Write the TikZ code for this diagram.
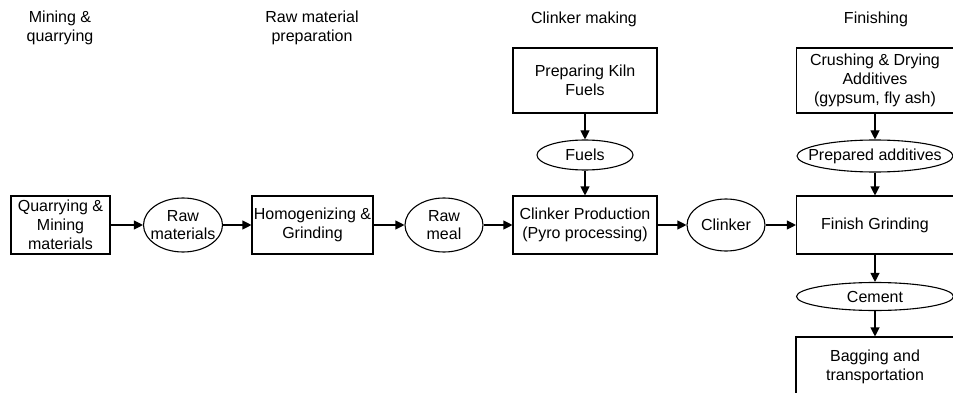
\documentclass[tikz,border=0pt]{standalone}
\usepackage{fontspec}
\setmainfont{Liberation Sans}
\usetikzlibrary{shapes.geometric,arrows.meta}
\begin{document}
\begin{tikzpicture}[x=1pt,y=-1pt,
  every node/.style={font=\fontsize{16}{18.8}\selectfont, align=center, inner sep=0pt},
  procbox/.style={draw, line width=1.1pt, rectangle, minimum width=#1},
  flowoval/.style={draw, line width=1.1pt, ellipse},
  stagelabel/.style={},
  flow/.style={line width=1.1pt, -{Triangle[length=9pt,width=9pt]}}
]
\useasboundingbox (0,0) rectangle (953,393);
\clip (0,0) rectangle (953,393);

% stage headings
\node[stagelabel] (h1) at (60,28) {Mining \&\\quarrying};
\node[stagelabel] (h2) at (312,28) {Raw material\\preparation};
\node[stagelabel] (h3) at (584,19) {Clinker making};
\node[stagelabel] (h4) at (876,19) {Finishing};

% main production line
\node[procbox=99pt, minimum height=58pt] (quarry) at (60.5,225) {Quarrying \&\\Mining\\materials};
\node[flowoval, minimum width=79pt, minimum height=54pt,
      label={[align=center]center:Raw\\materials}] (rawmat) at (183,225) {};
\node[procbox=121pt, minimum height=58pt] (homog) at (312.5,225) {Homogenizing \&\\Grinding};
\node[flowoval, minimum width=78pt, minimum height=54pt,
      label={[align=center]center:Raw\\meal}] (rawmeal) at (444,225) {};
\node[procbox=144pt, minimum height=58pt] (kiln) at (585,225) {Clinker Production\\(Pyro processing)};
\node[flowoval, minimum width=78pt, minimum height=52pt,
      label={[align=center]center:Clinker}] (clinker) at (726,225) {};
\node[procbox=157pt, minimum height=58pt] (finish) at (875,225) {Finish Grinding};

% fuel branch
\node[procbox=144pt, minimum height=65pt] (fuelprep) at (585,80.5) {Preparing Kiln\\Fuels};
\node[flowoval, minimum width=96pt, minimum height=30pt,
      label={[align=center]center:Fuels}] (fuels) at (585,155) {};

% additives branch
\node[procbox=157pt, minimum height=65pt] (crush) at (875,80.5) {Crushing \& Drying\\Additives\\(gypsum, fly ash)};
\node[flowoval, minimum width=156pt, minimum height=32pt,
      label={[align=center]center:Prepared additives}] (additives) at (875,156) {};

% output branch
\node[flowoval, minimum width=157pt, minimum height=28pt,
      label={[align=center]center:Cement}] (cement) at (875,296.5) {};
\node[procbox=166pt, minimum height=63pt] (bagging) at (879,368.5) {};
\node (bagtext) at (875,367) {Bagging and\\transportation};

% connectors
\draw[flow] (quarry) -- (rawmat);
\draw[flow] (rawmat) -- (homog);
\draw[flow] (homog) -- (rawmeal);
\draw[flow] (rawmeal) -- (kiln);
\draw[flow] (kiln) -- (clinker);
\draw[flow] (clinker) -- (finish);
\draw[flow] (fuelprep) -- (fuels);
\draw[flow] (fuels) -- (kiln);
\draw[flow] (crush) -- (additives);
\draw[flow] (additives) -- (finish);
\draw[flow] (finish) -- (cement);
\draw[flow] (cement.south) -- (cement.south |- bagging.north);
\end{tikzpicture}
\end{document}
